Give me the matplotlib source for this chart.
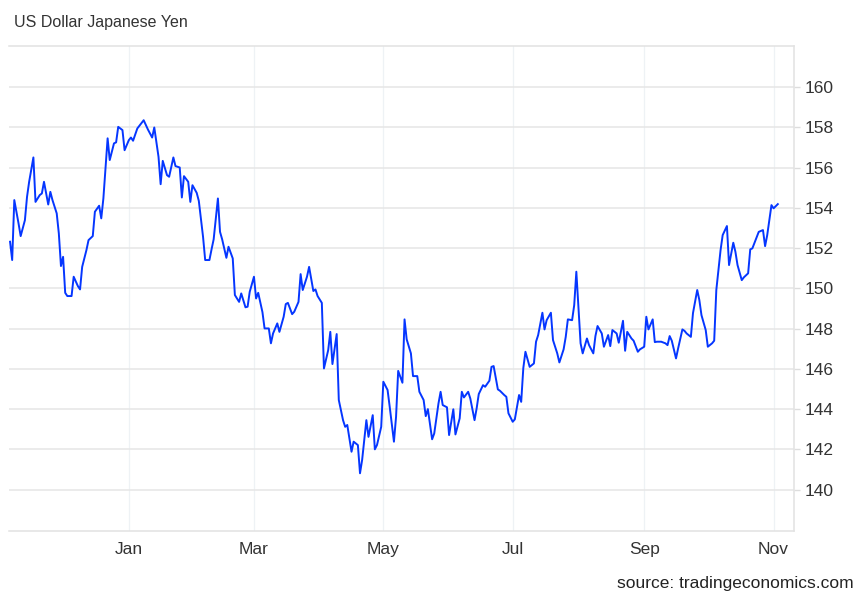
import pandas as pd
import matplotlib
matplotlib.use("Agg")
import matplotlib.pyplot as plt

plt.rcParams['font.family'] = ['Liberation Sans', 'DejaVu Sans']

# USD/JPY: day offset from 1 Jan 2025 and close
day_offsets = [
    -56, -55, -54, -52, -51, -49, -48, -47, -45, -44,
    -42, -41, -40, -38, -37, -36, -34, -33, -32, -31,
    -30, -29, -27, -26, -24, -23, -22, -20, -19, -17,
    -16, -14, -13, -12, -10, -9, -7, -6, -5, -3,
    -2, 0, 1, 2, 4, 7, 9, 11, 12, 14,
    15, 16, 18, 19, 21, 22, 24, 25, 26, 28,
    29, 30, 32, 33, 35, 36, 38, 39, 40, 42,
    43, 44, 46, 47, 49, 50, 52, 53, 55, 56,
    57, 59, 60, 61, 63, 64, 66, 67, 68, 70,
    71, 73, 74, 75, 77, 78, 80, 81, 82, 84,
    85, 87, 88, 89, 91, 92, 94, 95, 96, 98,
    99, 101, 102, 103, 105, 106, 108, 109, 110, 112,
    113, 115, 116, 117, 119, 120, 122, 123, 125, 126,
    127, 129, 130, 131, 133, 134, 136, 137, 139, 140,
    141, 143, 144, 146, 147, 148, 150, 151, 153, 154,
    156, 157, 158, 160, 161, 163, 164, 165, 167, 168,
    170, 171, 172, 174, 175, 177, 178, 179, 181, 182,
    184, 185, 186, 187, 189, 191, 192, 193, 195, 196,
    197, 199, 200, 202, 203, 205, 206, 207, 209, 210,
    211, 213, 214, 216, 217, 219, 220, 221, 223, 224,
    226, 227, 228, 230, 231, 233, 234, 235, 237, 238,
    240, 241, 243, 244, 245, 247, 248, 249, 251, 253,
    254, 255, 256, 258, 259, 261, 262, 263, 265, 266,
    268, 269, 270, 272, 273, 275, 276, 277, 279, 280,
    282, 283, 285, 286, 287, 289, 290, 292, 293, 294,
    296, 297, 299, 300, 301, 303, 304, 306,
]
usdjpy = [
    152.32, 151.41, 154.39, 153.23, 152.60, 153.39, 154.55, 155.30, 156.51, 154.30,
    154.64, 154.72, 155.30, 154.17, 154.80, 154.39, 153.73, 152.73, 151.11, 151.57,
    149.78, 149.62, 149.62, 150.58, 150.11, 149.95, 151.07, 151.90, 152.40, 152.60,
    153.81, 154.11, 153.48, 154.47, 157.46, 156.38, 157.21, 157.26, 158.03, 157.87,
    156.87, 157.37, 157.50, 157.34, 157.95, 158.36, 157.90, 157.50, 158.00, 156.54,
    155.18, 156.34, 155.63, 155.55, 156.51, 156.08, 156.01, 154.52, 155.58, 155.30,
    154.30, 155.13, 154.75, 154.35, 152.56, 151.41, 151.41, 151.94, 152.44, 154.47,
    152.81, 152.44, 151.52, 152.07, 151.49, 149.67, 149.33, 149.75, 149.06, 149.09,
    149.83, 150.58, 149.50, 149.78, 148.82, 148.01, 148.01, 147.27, 147.76, 148.26,
    147.84, 148.59, 149.22, 149.28, 148.72, 148.84, 149.33, 150.71, 149.92, 150.58,
    151.07, 149.87, 149.95, 149.62, 149.28, 146.02, 146.93, 147.84, 146.24, 147.73,
    144.45, 143.45, 143.12, 143.21, 141.88, 142.38, 142.21, 140.81, 141.47, 143.45,
    142.62, 143.70, 142.00, 142.21, 143.12, 145.36, 144.95, 144.12, 142.38, 143.62,
    145.90, 145.31, 148.46, 147.47, 146.77, 145.64, 145.64, 144.86, 144.45, 143.65,
    144.00, 142.50, 142.79, 144.28, 144.86, 144.20, 144.09, 142.71, 143.99, 142.74,
    143.54, 144.86, 144.58, 144.86, 144.53, 143.45, 144.04, 144.75, 145.19, 145.11,
    145.41, 146.10, 146.14, 144.98, 144.91, 144.70, 144.61, 143.79, 143.37, 143.49,
    144.70, 144.36, 146.04, 146.85, 146.10, 146.27, 147.35, 147.68, 148.79, 147.96,
    148.42, 148.79, 147.43, 146.77, 146.32, 146.97, 147.59, 148.46, 148.42, 149.17,
    150.83, 147.27, 146.77, 147.51, 147.18, 146.77, 147.63, 148.13, 147.76, 147.10,
    147.68, 147.13, 147.93, 147.76, 147.30, 148.39, 146.90, 147.84, 147.51, 147.40,
    146.85, 146.97, 147.10, 148.59, 147.96, 148.46, 147.33, 147.35, 147.35, 147.27,
    147.18, 147.63, 147.40, 146.52, 147.02, 147.96, 147.89, 147.76, 147.59, 148.77,
    149.92, 149.42, 148.67, 147.93, 147.10, 147.27, 147.40, 149.92, 151.90, 152.65,
    153.10, 151.16, 152.27, 151.82, 151.16, 150.41, 150.55, 150.75, 151.94, 151.99,
    152.53, 152.81, 152.90, 152.10, 152.65, 154.14, 153.98, 154.19,
]
dates = pd.Timestamp("2025-01-01") + pd.to_timedelta(day_offsets, unit="D")

month_ticks = pd.to_datetime(["2025-01-01", "2025-03-01", "2025-05-01",
                              "2025-07-01", "2025-09-01", "2025-11-01"])
month_labels = ["Jan", "Mar", "May", "Jul", "Sep", "Nov"]
y_ticks = list(range(140, 161, 2))

fig = plt.figure(figsize=(8.65, 6.0), dpi=100)
ax = fig.add_axes([0.0104, 0.115, 0.907, 0.808])

ax.plot(dates, usdjpy, color="#0536ff", lw=1.4, solid_joinstyle="round", zorder=3)

ax.set_xlim(pd.Timestamp("2024-11-05 12:00"), pd.Timestamp("2025-11-10 10:00"))
ax.set_ylim(137.94, 162.04)

ax.set_xticks(month_ticks)
ax.set_xticklabels(month_labels)
ax.set_yticks(y_ticks)

ax.yaxis.tick_right()
ax.tick_params(axis="y", length=4, width=1, color="#dddddd", pad=4,
               labelsize=12.5, labelcolor="#333333")
ax.tick_params(axis="x", length=0, pad=8, labelsize=12.5, labelcolor="#333333")

ax.grid(axis="y", color="#e6e6e6", lw=1.1)
ax.grid(axis="x", color="#eef2f5", lw=0.9)
ax.set_axisbelow(True)

ax.spines["left"].set_visible(False)
for side in ["top", "bottom", "right"]:
    ax.spines[side].set_color("#e2e2e2")
    ax.spines[side].set_linewidth(1.1)

fig.text(0.016, 0.963, "US Dollar Japanese Yen", fontsize=11.5, color="#333333",
         ha="left", va="center")
fig.text(0.987, 0.027, "source: tradingeconomics.com", fontsize=12.5, color="#222222",
         ha="right", va="center")

fig.savefig("out.png", dpi=100)
